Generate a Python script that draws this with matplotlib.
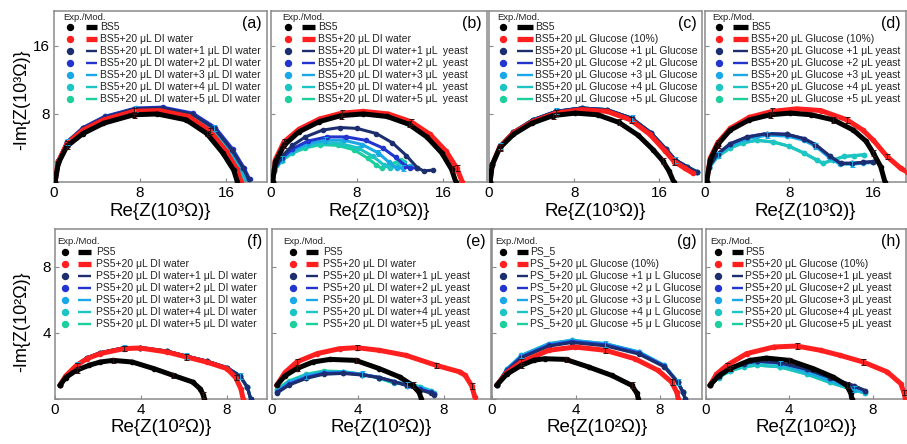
import matplotlib
matplotlib.use("Agg")
import matplotlib.pyplot as plt

plt.rcParams['font.family'] = ['Liberation Sans', 'DejaVu Sans']

W, H = 907, 444

# ---------------- data ----------------
SERIES_COLORS = ['#000000', '#ff1f1f', '#1c2e6e', '#2235cc', '#1aa8e6', '#1cc4c4', '#1ccf9c']

# Panel (a)
A_X = [
    [0.1, 0.4, 1.2, 2.7, 4.6, 7.4, 9.6, 12.3, 14.2, 15.7, 16.7, 17.05],
    [0.1, 0.4, 1.2, 2.7, 4.6, 7.4, 9.8, 12.5, 14.5, 16.0, 17.0, 17.4],
    [0.1, 0.4, 1.2, 2.7, 4.7, 7.5, 10.0, 12.8, 14.9, 16.5, 17.6, 18.1],
    [0.1, 0.4, 1.2, 2.7, 4.7, 7.6, 10.1, 12.9, 15.0, 16.6, 17.7, 18.2],
    [0.1, 0.4, 1.2, 2.7, 4.7, 7.5, 10.0, 12.8, 14.9, 16.4, 17.5, 17.9],
    [0.1, 0.4, 1.2, 2.7, 4.7, 7.5, 10.0, 12.7, 14.8, 16.3, 17.4, 17.8],
    [0.1, 0.4, 1.2, 2.7, 4.7, 7.5, 9.9, 12.6, 14.7, 16.2, 17.3, 17.7],
]
A_Y = [
    [0.0, 2.2, 4.2, 5.7, 6.9, 7.9, 8.0, 7.3, 5.7, 3.4, 1.4, 0.0],
    [0.0, 2.4, 4.5, 6.1, 7.3, 8.3, 8.4, 7.7, 6.0, 3.6, 1.5, 0.0],
    [0.0, 2.5, 4.7, 6.3, 7.6, 8.6, 8.7, 8.0, 6.3, 3.8, 1.6, 0.3],
    [0.0, 2.5, 4.7, 6.4, 7.7, 8.7, 8.8, 8.1, 6.4, 3.9, 1.6, 0.3],
    [0.0, 2.5, 4.7, 6.4, 7.7, 8.6, 8.7, 8.0, 6.3, 3.8, 1.5, 0.3],
    [0.0, 2.5, 4.7, 6.3, 7.6, 8.5, 8.6, 7.9, 6.2, 3.7, 1.5, 0.3],
    [0.0, 2.4, 4.6, 6.3, 7.5, 8.4, 8.5, 7.8, 6.1, 3.7, 1.5, 0.3],
]

# Panel (b)
B_X = [
    [0.15, 0.4, 1.2, 2.6, 4.5, 6.5, 8.6, 10.8, 12.8, 14.5, 15.9, 16.8, 17.2],
    [0.15, 0.4, 1.2, 2.6, 4.5, 6.6, 8.6, 10.9, 13.0, 14.8, 16.3, 17.3, 17.8],
    [0.15, 0.3, 1.0, 2.0, 3.2, 4.8, 6.4, 8.0, 9.8, 11.3, 12.6, 13.6, 14.2, 15.1],
    [0.15, 0.3, 1.0, 2.0, 3.4, 5.2, 7.0, 8.8, 10.4, 11.6, 12.5, 12.9, 13.6],
    [0.15, 0.3, 1.0, 2.0, 3.4, 5.0, 6.8, 8.5, 10.0, 11.0, 11.7, 12.3, 12.9],
    [0.15, 0.3, 1.0, 2.0, 3.3, 4.8, 6.5, 8.1, 9.5, 10.5, 11.1, 11.8, 12.4],
    [0.15, 0.3, 1.0, 2.0, 3.2, 4.6, 6.2, 7.7, 9.0, 9.8, 10.3, 11.2, 12.1],
]
B_Y = [
    [0.0, 2.3, 4.3, 5.9, 7.1, 7.8, 8.0, 7.7, 6.8, 5.3, 3.4, 1.5, 0.0],
    [0.0, 2.6, 4.7, 6.2, 7.4, 8.1, 8.3, 8.0, 7.1, 5.6, 3.6, 1.6, 0.0],
    [0.0, 1.5, 3.0, 4.3, 5.3, 6.1, 6.4, 6.3, 5.7, 4.6, 3.1, 1.7, 1.3, 1.4],
    [0.0, 1.4, 2.8, 3.9, 4.8, 5.3, 5.3, 4.9, 4.0, 2.9, 1.9, 1.6, 1.7],
    [0.0, 1.4, 2.7, 3.7, 4.5, 4.9, 4.9, 4.4, 3.4, 2.3, 1.6, 1.7, 1.9],
    [0.0, 1.3, 2.6, 3.5, 4.2, 4.6, 4.5, 4.0, 3.0, 2.0, 1.6, 2.0, 2.4],
    [0.0, 1.3, 2.5, 3.4, 4.0, 4.4, 4.3, 3.8, 2.8, 2.0, 1.6, 2.1, 2.6],
]

# Panel (c)
C_X = [
    [0.1, 0.3, 1.0, 2.3, 4.0, 6.0, 8.1, 10.2, 12.2, 14.0, 15.4, 16.3, 16.9, 17.35],
    [0.1, 0.3, 1.0, 2.3, 4.1, 6.3, 8.7, 11.1, 13.3, 15.1, 16.5, 17.4, 18.4, 19.2],
    [0.1, 0.3, 1.0, 2.3, 4.1, 6.3, 8.7, 11.1, 13.4, 15.2, 16.6, 17.5, 18.6, 19.5],
    [0.1, 0.3, 1.0, 2.3, 4.1, 6.3, 8.7, 11.1, 13.4, 15.2, 16.6, 17.5, 18.6, 19.5],
    [0.1, 0.3, 1.0, 2.3, 4.1, 6.3, 8.7, 11.1, 13.4, 15.2, 16.6, 17.5, 18.6, 19.5],
    [0.1, 0.3, 1.0, 2.3, 4.1, 6.3, 8.7, 11.1, 13.4, 15.2, 16.6, 17.5, 18.6, 19.5],
    [0.1, 0.3, 1.0, 2.3, 4.1, 6.3, 8.7, 11.1, 13.4, 15.2, 16.6, 17.5, 18.6, 19.5],
]
C_Y = [
    [0.0, 2.0, 4.0, 5.6, 6.9, 7.8, 8.1, 7.9, 7.0, 5.5, 3.8, 2.5, 1.3, 0.0],
    [0.0, 2.0, 4.1, 5.8, 7.1, 8.1, 8.5, 8.3, 7.3, 5.6, 3.7, 2.4, 1.6, 1.0],
    [0.0, 2.1, 4.2, 5.9, 7.3, 8.3, 8.7, 8.5, 7.5, 5.8, 3.9, 2.6, 1.8, 1.2],
    [0.0, 2.1, 4.2, 5.9, 7.3, 8.3, 8.7, 8.5, 7.5, 5.8, 3.9, 2.6, 1.8, 1.2],
    [0.0, 2.1, 4.2, 5.9, 7.3, 8.3, 8.7, 8.5, 7.5, 5.8, 3.9, 2.6, 1.8, 1.2],
    [0.0, 2.1, 4.2, 5.9, 7.3, 8.3, 8.7, 8.5, 7.5, 5.8, 3.9, 2.6, 1.8, 1.2],
    [0.0, 2.1, 4.2, 5.9, 7.3, 8.3, 8.7, 8.5, 7.5, 5.8, 3.9, 2.6, 1.8, 1.2],
]

# Panel (d)
D_X = [
    [0.15, 0.5, 1.2, 2.4, 4.2, 6.2, 8.1, 10.1, 12.2, 14.1, 15.3, 16.0, 16.7, 17.1],
    [0.15, 0.5, 1.2, 2.4, 4.2, 6.4, 8.7, 11.0, 13.5, 15.0, 16.0, 17.3, 18.6, 19.2],
    [0.15, 0.4, 1.2, 2.4, 4.0, 5.9, 7.8, 9.4, 10.5, 11.9, 12.9, 14.0, 15.0, 16.0],
    [0.15, 0.4, 1.2, 2.4, 4.0, 5.9, 7.8, 9.4, 10.5, 11.9, 12.9, 14.0, 15.0, 16.0],
    [0.15, 0.4, 1.2, 2.4, 4.0, 5.9, 7.8, 9.4, 10.5, 11.8, 12.8, 14.0, 15.0, 16.0],
    [0.15, 0.4, 1.2, 2.4, 3.6, 4.9, 6.5, 8.0, 9.4, 10.6, 11.2, 12.2, 13.2, 14.2, 15.1],
    [0.15, 0.4, 1.2, 2.4, 3.6, 4.9, 6.5, 8.0, 9.4, 10.6, 11.2, 12.2, 13.2, 14.2, 15.1],
]
D_Y = [
    [0.0, 2.6, 4.4, 6.1, 7.3, 7.9, 8.1, 7.9, 7.3, 6.1, 4.8, 3.4, 1.8, 0.0],
    [0.0, 2.8, 4.6, 6.3, 7.6, 8.3, 8.6, 8.4, 7.3, 6.1, 4.9, 3.0, 1.6, 1.2],
    [0.0, 1.8, 3.3, 4.5, 5.3, 5.7, 5.6, 5.1, 4.4, 3.0, 2.2, 2.2, 2.3, 2.4],
    [0.0, 1.8, 3.3, 4.5, 5.3, 5.7, 5.6, 5.1, 4.4, 3.0, 2.2, 2.2, 2.3, 2.4],
    [0.0, 1.8, 3.2, 4.3, 5.1, 5.5, 5.4, 4.9, 4.2, 2.9, 2.1, 2.1, 2.2, 2.3],
    [0.0, 1.7, 3.0, 4.0, 4.6, 4.9, 4.7, 4.2, 3.4, 2.6, 2.2, 2.6, 3.0, 3.1, 3.2],
    [0.0, 1.7, 3.0, 4.0, 4.6, 4.9, 4.7, 4.2, 3.4, 2.6, 2.2, 2.6, 3.0, 3.1, 3.2],
]

# Panel (f)
F_X = [
    [0.23, 0.5, 1.0, 1.6, 2.1, 2.7, 3.6, 4.6, 5.5, 6.4, 6.75, 6.9, 6.95],
    [0.23, 0.5, 1.0, 1.5, 2.1, 3.2, 3.95, 5.2, 6.1, 7.05, 8.0, 8.4, 8.65, 8.75],
    [0.23, 0.5, 1.0, 1.5, 2.1, 3.2, 3.95, 5.2, 6.1, 7.05, 8.0, 8.6, 8.95, 9.1],
    [0.23, 0.5, 1.0, 1.5, 2.1, 3.2, 3.95, 5.2, 6.1, 7.05, 8.0, 8.6, 8.95, 9.1],
    [0.23, 0.5, 1.0, 1.5, 2.1, 3.2, 3.95, 5.2, 6.1, 7.05, 8.0, 8.6, 8.95, 9.1],
    [0.23, 0.5, 1.0, 1.5, 2.1, 3.2, 3.95, 5.2, 6.1, 7.05, 8.0, 8.6, 8.95, 9.1],
    [0.23, 0.5, 1.0, 1.5, 2.1, 3.2, 3.95, 5.2, 6.1, 7.05, 8.0, 8.6, 8.95, 9.1],
]
F_Y = [
    [0.83, 1.3, 1.74, 2.05, 2.24, 2.34, 2.24, 1.84, 1.43, 1.03, 0.62, 0.25, 0.0],
    [0.83, 1.4, 2.04, 2.45, 2.75, 3.05, 3.09, 2.85, 2.55, 2.24, 1.84, 1.3, 0.6, 0.0],
    [0.83, 1.4, 2.05, 2.5, 2.8, 3.1, 3.12, 2.9, 2.6, 2.3, 1.9, 1.4, 0.7, 0.0],
    [0.83, 1.4, 2.05, 2.5, 2.8, 3.1, 3.12, 2.9, 2.6, 2.3, 1.9, 1.4, 0.7, 0.0],
    [0.83, 1.4, 2.05, 2.5, 2.8, 3.1, 3.12, 2.9, 2.6, 2.3, 1.9, 1.4, 0.7, 0.0],
    [0.83, 1.4, 2.05, 2.5, 2.8, 3.1, 3.12, 2.9, 2.6, 2.3, 1.9, 1.4, 0.7, 0.0],
    [0.83, 1.4, 2.05, 2.5, 2.8, 3.1, 3.12, 2.9, 2.6, 2.3, 1.9, 1.4, 0.7, 0.0],
]

# Panel (e)
E_X = [
    [0.22, 0.6, 1.15, 1.9, 2.7, 3.9, 5.0, 5.95, 6.55, 6.85, 6.96],
    [0.22, 0.6, 1.15, 2.1, 3.15, 3.95, 5.0, 6.25, 7.65, 8.75, 9.0, 9.3, 9.45],
    [0.22, 0.8, 1.6, 2.4, 3.3, 4.2, 5.0, 5.7, 6.3, 6.9, 7.4, 7.55],
    [0.22, 0.8, 1.6, 2.4, 3.3, 4.2, 5.0, 5.7, 6.3, 6.9, 7.4, 7.55],
    [0.22, 0.8, 1.6, 2.4, 3.3, 4.2, 5.0, 5.7, 6.3, 6.9, 7.4, 7.55],
    [0.22, 0.8, 1.6, 2.4, 3.3, 4.2, 5.0, 5.7, 6.3, 6.9, 7.4, 7.55],
    [0.22, 0.8, 1.6, 2.4, 3.3, 4.2, 5.0, 5.7, 6.3, 6.9, 7.4, 7.55],
]
E_Y = [
    [0.83, 1.4, 1.84, 2.24, 2.4, 2.34, 1.84, 1.33, 0.83, 0.4, 0.0],
    [0.83, 1.6, 2.24, 2.75, 3.05, 3.11, 2.95, 2.64, 2.04, 1.64, 1.43, 0.8, 0.1],
    [0.35, 0.85, 1.25, 1.5, 1.55, 1.45, 1.3, 1.05, 0.8, 0.55, 0.35, 0.25],
    [0.4, 0.9, 1.3, 1.55, 1.58, 1.48, 1.3, 1.05, 0.82, 0.6, 0.4, 0.28],
    [0.45, 1.0, 1.4, 1.6, 1.62, 1.5, 1.3, 1.05, 0.85, 0.65, 0.45, 0.3],
    [0.55, 1.05, 1.45, 1.65, 1.65, 1.5, 1.3, 1.0, 0.95, 0.75, 0.5, 0.35],
    [0.6, 1.1, 1.5, 1.7, 1.66, 1.5, 1.25, 0.95, 0.9, 0.7, 0.5, 0.35],
]

# Panel (g)
G_X = [
    [0.22, 0.7, 1.4, 2.0, 2.5, 3.5, 4.6, 5.7, 6.65, 6.9, 6.97],
    [0.22, 0.7, 1.4, 2.7, 3.95, 5.4, 6.8, 7.9, 8.55, 8.8, 8.87],
    [0.22, 0.7, 1.4, 2.7, 3.8, 5.4, 7.0, 8.2, 8.85, 9.1, 9.2],
    [0.22, 0.7, 1.4, 2.7, 3.8, 5.4, 7.0, 8.2, 8.85, 9.1, 9.2],
    [0.22, 0.7, 1.4, 2.7, 3.8, 5.4, 7.0, 8.2, 8.85, 9.1, 9.2],
    [0.22, 0.7, 1.4, 2.7, 3.8, 5.4, 7.0, 8.2, 8.85, 9.1, 9.2],
    [0.22, 0.7, 1.4, 2.7, 3.8, 5.4, 7.0, 8.2, 8.85, 9.1, 9.2],
]
G_Y = [
    [0.83, 1.5, 2.04, 2.35, 2.44, 2.4, 1.94, 1.43, 0.83, 0.35, 0.0],
    [0.83, 1.6, 2.24, 2.95, 3.15, 2.95, 2.44, 1.74, 1.03, 0.4, 0.0],
    [0.83, 1.7, 2.5, 3.2, 3.42, 3.22, 2.72, 1.95, 1.0, 0.4, 0.0],
    [0.83, 1.75, 2.55, 3.25, 3.48, 3.28, 2.78, 2.0, 1.02, 0.4, 0.0],
    [0.83, 1.8, 2.64, 3.35, 3.56, 3.35, 2.85, 2.04, 1.03, 0.4, 0.0],
    [0.83, 1.8, 2.64, 3.35, 3.56, 3.35, 2.85, 2.04, 1.03, 0.4, 0.0],
    [0.83, 1.8, 2.6, 3.3, 3.52, 3.32, 2.82, 2.02, 1.03, 0.4, 0.0],
]

# Panel (h)
H_X = [
    [0.19, 0.6, 1.15, 2.1, 2.9, 4.0, 5.15, 6.1, 6.75, 6.95, 7.0],
    [0.19, 0.5, 1.0, 1.95, 3.25, 4.35, 5.5, 6.45, 7.55, 8.7, 9.35, 9.5, 9.57],
    [0.19, 0.6, 1.15, 1.8, 2.45, 3.55, 4.85, 5.95, 7.1, 7.65],
    [0.19, 0.6, 1.15, 1.8, 2.45, 3.55, 4.85, 5.95, 7.1, 7.65],
    [0.19, 0.6, 1.15, 1.8, 2.45, 3.55, 4.85, 5.95, 7.1, 7.65],
    [0.19, 0.6, 1.15, 1.8, 2.45, 3.55, 4.85, 5.95, 7.1, 7.65],
    [0.19, 0.6, 1.15, 1.8, 2.45, 3.55, 4.85, 5.95, 7.1, 7.65],
]
H_Y = [
    [0.83, 1.4, 1.84, 2.34, 2.48, 2.34, 1.84, 1.33, 0.83, 0.35, 0.0],
    [0.83, 1.5, 2.04, 2.75, 3.15, 3.21, 2.95, 2.64, 2.24, 1.64, 0.93, 0.4, 0.0],
    [0.83, 1.4, 1.85, 2.15, 2.3, 2.2, 1.8, 1.3, 0.8, 0.5],
    [0.83, 1.4, 1.85, 2.15, 2.3, 2.2, 1.8, 1.3, 0.8, 0.5],
    [0.83, 1.35, 1.8, 2.1, 2.24, 2.14, 1.64, 1.13, 0.62, 0.42],
    [0.83, 1.3, 1.7, 1.95, 2.05, 1.95, 1.5, 1.0, 0.55, 0.35],
    [0.83, 1.3, 1.7, 1.95, 2.05, 1.95, 1.5, 1.0, 0.55, 0.35],
]

# Legend labels
MU = "\u03bcL"
LAB_A = ["BS5", f"BS5+20 {MU} DI water"] + [f"BS5+20 {MU} DI water+{k} {MU} DI water" for k in range(1, 6)]
LAB_B = ["BS5", f"BS5+20 {MU} DI water"] + [f"BS5+20 {MU} DI water+{k} {MU}  yeast" for k in range(1, 6)]
LAB_C = ["BS5", f"BS5+20 {MU} Glucose (10%)"] + [f"BS5+20 {MU} Glucose +{k} {MU} Glucose" for k in range(1, 6)]
LAB_D = ["BS5", f"BS5+20 {MU} Glucose (10%)"] + [f"BS5+20 {MU} Glucose +{k} {MU} yeast" for k in range(1, 6)]
LAB_F = ["PS5", f"PS5+20 {MU} DI water"] + [f"PS5+20 {MU} DI water+{k} {MU} DI water" for k in range(1, 6)]
LAB_E = ["PS5", f"PS5+20 {MU} DI water"] + [f"PS5+20 {MU} DI water+{k} {MU} yeast" for k in range(1, 6)]
LAB_G = ["PS_5", f"PS_5+20 {MU} Glucose (10%)"] + [f"PS_5+20 {MU} Glucose +{k} \u03bc L Glucose" for k in range(1, 6)]
LAB_H = ["PS5", f"PS5+20 {MU} Glucose (10%)"] + [f"PS5+20 {MU} Glucose+{k} {MU} yeast" for k in range(1, 6)]

TAGS = ["(a)", "(b)", "(c)", "(d)", "(f)", "(e)", "(g)", "(h)"]
TOP_XTICKS = [0, 8, 16]
BOT_XTICKS = [0, 4, 8]
ERR_TOP = 0.35
ERR_BOT = 0.17

# ---------------- layout (pixels) ----------------
TOP_ROW = (11, 182, 20.1)
BOT_ROW = (229, 399, 10.3)
COLS_TOP = [(54, 267, 19.8, 9, 16, 32, 43, 46),
            (271, 487, 20.1, 11, 17, 31, 44, 47),
            (489, 702, 20.0, 8, 14, 28, 44, 46),
            (705, 906, 19.1, 7, 14, 28, 43, 46)]
COLS_BOT = [(55, 267, 9.86, 2, 10, 23, 36, 41),
            (272, 491, 10.2, 11, 21, 34, 46, 51),
            (492, 702, 10.0, 3, 11, 25, 36, 38),
            (706, 906, 9.6, 4, 12, 26, 37, 39)]

fig = plt.figure(figsize=(W / 100, H / 100), dpi=100)

panels = [
    (A_X, A_Y, LAB_A), (B_X, B_Y, LAB_B), (C_X, C_Y, LAB_C), (D_X, D_Y, LAB_D),
    (F_X, F_Y, LAB_F), (E_X, E_Y, LAB_E), (G_X, G_Y, LAB_G), (H_X, H_Y, LAB_H),
]

SPINE = '#8a8a8a'
for i, (xs, ys, labels) in enumerate(panels):
    top_row = i < 4
    rtop, rbot, ymax = TOP_ROW if top_row else BOT_ROW
    col = (COLS_TOP if top_row else COLS_BOT)[i % 4]
    left, right, xmax, ex, mx, lx0, lx1, tx = col
    wpx, hpx = right - left, rbot - rtop
    ticks = TOP_XTICKS if top_row else BOT_XTICKS
    ax = fig.add_axes([left / W, 1 - rbot / H, wpx / W, hpx / H])
    ax.set_xlim(0, xmax)
    ax.set_ylim(0, ymax)
    for s in ax.spines.values():
        s.set_color(SPINE)
        s.set_linewidth(1.1)
    ax.set_xticks(ticks)
    ax.set_yticks(ticks)
    ax.tick_params(direction='in', length=3, width=0.8, color=SPINE,
                   labelsize=11, pad=3)
    if i % 4 != 0:
        ax.set_yticklabels([])
    else:
        ax.set_yticklabels(['', str(ticks[1]), str(ticks[2])])
    err = ERR_TOP if top_row else ERR_BOT
    order = [6, 5, 4, 3, 2, 1, 0]
    for k in order:
        c = SERIES_COLORS[k]
        lw = 3.6 if k < 2 else 2.2
        ax.plot(xs[k], ys[k], '-', color=c, lw=lw, solid_capstyle='round',
                solid_joinstyle='round', zorder=2 + (7 - k) * 0.1)
        ax.plot(xs[k], ys[k], 'o', color=c, ms=3.0, zorder=2.05 + (7 - k) * 0.1)
        if k in (0, 1, 4):
            idx = list(range(2, len(xs[k]) - 1, 3))
            ax.errorbar([xs[k][j] for j in idx], [ys[k][j] for j in idx], yerr=err,
                        fmt='none', ecolor='#3a1010' if k < 2 else c, elinewidth=0.7,
                        capsize=1.8, capthick=0.7, zorder=3)

    def fx(p):
        return p / wpx

    def fy(p):
        return 1 - p / hpx

    exp_dy, row0 = (6, 16) if top_row else (12, 22.5)
    ax.text(fx(ex), fy(exp_dy), "Exp./Mod.", transform=ax.transAxes, fontsize=6.8,
            ha='left', va='center', color='#222222', clip_on=False)
    for k in range(7):
        yy = fy(row0 + 12 * k)
        c = SERIES_COLORS[k]
        ax.plot([fx(mx)], [yy], 'o', color=c, ms=4.3, transform=ax.transAxes, clip_on=False, zorder=5)
        ax.plot([fx(lx0), fx(lx1)], [yy, yy], '-', color=c, lw=3.8 if k < 2 else 1.7,
                transform=ax.transAxes, clip_on=False, solid_capstyle='butt', zorder=5)
        ax.text(fx(tx), yy, labels[k], transform=ax.transAxes, fontsize=7.5,
                ha='left', va='center', color='#222222', clip_on=False, zorder=5)
    ax.text(1 - 5 / wpx, 1 - 12 / hpx, TAGS[i], transform=ax.transAxes, fontsize=11.5,
            ha='right', va='center')
    xl = "Re{Z(10\u00b3\u03a9)}" if top_row else "Re{Z(10\u00b2\u03a9)}"
    fig.text((left + right) / 2 / W, 1 - (211 if top_row else 427) / H, xl,
             ha='center', va='center', fontsize=13.5)

fig.text(22 / W, 1 - 100 / H, "-Im{Z(10\u00b3\u03a9)}", rotation=90, ha='center', va='center', fontsize=13)
fig.text(22 / W, 1 - 322 / H, "-Im{Z(10\u00b2\u03a9)}", rotation=90, ha='center', va='center', fontsize=13)

fig.savefig("out.png", dpi=100)
